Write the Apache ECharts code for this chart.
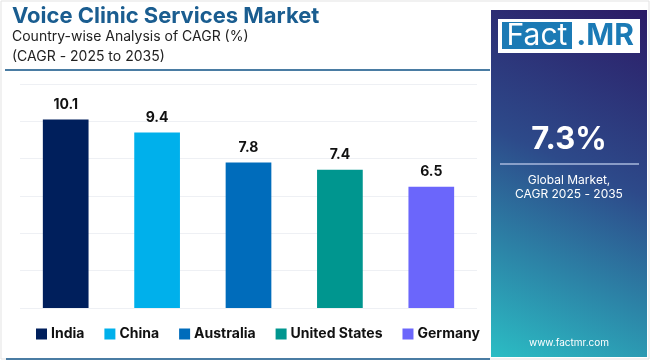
<!DOCTYPE html>
<html><head><meta charset="utf-8">
<script src="https://cdn.jsdelivr.net/npm/echarts@6/dist/echarts.min.js"></script>
<style>html,body{margin:0;padding:0;background:#fff}#c{width:650px;height:360px}</style>
</head><body><div id="c"></div>
<script>
const categories = ['India','China','Australia','United States','Germany'];
const values = [10.1, 9.4, 7.8, 7.4, 6.5];
const colors = ['#001f5c','#00b0eb','#006cbb','#00968f','#6b66fb'];
const globalCagr = '7.3%';

const chart = echarts.init(document.getElementById('c'), null, {renderer:'canvas'});
const font = 'Inter, "Open Sans", sans-serif';
const series = categories.map((name, i) => ({
  name: name,
  type: 'bar',
  stack: 'one',
  barWidth: '50%',
  itemStyle: {color: colors[i]},
  label: {show: true, position: 'top', distance: 8, fontFamily: font, fontWeight: 'bold', fontSize: 14, color: '#111'},
  data: categories.map((c, j) => j === i ? values[i] : null)
}));
chart.setOption({
  animation: false,
  grid: {left: 20, right: 173, top: 84, bottom: 52},
  xAxis: {type: 'category', data: categories, axisLine: {show: false}, axisTick: {show: false}, axisLabel: {show: false}},
  yAxis: {type: 'value', min: 0, max: 12, interval: 2, axisLabel: {show: false}, axisLine: {show: false}, axisTick: {show: false},
    splitLine: {lineStyle: {color: '#eef0f4', width: 1}}},
  legend: {data: categories, left: 31, top: 322, itemWidth: 11, itemHeight: 11, itemGap: 20, icon: 'rect',
    textStyle: {fontFamily: font, fontWeight: 'bold', fontSize: 14, color: '#111', padding: [0,0,0,-1]}},
  series: series,
  graphic: [
    {type: 'rect', shape: {x: 1, y: 1, width: 648, height: 358}, style: {fill: 'none', stroke: '#e3e3e3', lineWidth: 1}, z: -1},
    {type: 'text', left: 12, top: 5, style: {text: 'Voice Clinic Services Market', font: 'bold 22px ' + font, fill: '#1a5d90'}},
    {type: 'text', left: 12, top: 30, style: {text: 'Country-wise Analysis of CAGR (%)', font: '14px ' + font, fill: '#222'}},
    {type: 'text', left: 12, top: 50, style: {text: '(CAGR - 2025 to 2035)', font: '14px ' + font, fill: '#222'}},
    {type: 'line', shape: {x1: 5, y1: 70, x2: 490, y2: 70}, style: {stroke: '#4a7ca3', lineWidth: 2}},
    {type: 'line', shape: {x1: 6, y1: 359, x2: 490, y2: 359}, style: {stroke: '#4a7ca3', lineWidth: 2}},
    {type: 'rect', shape: {x: 491, y: 10, width: 156, height: 347},
      style: {fill: new echarts.graphic.LinearGradient(1, 0, 0, 1, [
        {offset: 0, color: '#2c1b66'}, {offset: 0.45, color: '#2d4a8a'}, {offset: 1, color: '#2bbdc4'}])}},
    {type: 'rect', shape: {x: 498, y: 19, width: 142, height: 34}, style: {fill: '#fff'}},
    {type: 'rect', shape: {x: 502, y: 22, width: 70, height: 27}, style: {fill: '#1b7ab5'}},
    {type: 'text', x: 537, y: 36, style: {text: 'Fact', font: '30px ' + font, fill: '#fff', align: 'center', verticalAlign: 'middle'}},
    {type: 'text', x: 605, y: 36, style: {text: '.MR', font: 'bold 30px ' + font, fill: '#1b7ab5', align: 'center', verticalAlign: 'middle'}},
    {type: 'text', x: 569, y: 140, style: {text: globalCagr, font: 'bold 31px ' + font, fill: '#fff', align: 'center', verticalAlign: 'middle'}},
    {type: 'line', shape: {x1: 500, y1: 164, x2: 639, y2: 164}, style: {stroke: '#a9b8dc', lineWidth: 1.5}},
    {type: 'text', x: 569, y: 180, style: {text: 'Global Market,', font: '12px ' + font, fill: '#fff', align: 'center', verticalAlign: 'middle'}},
    {type: 'text', x: 569, y: 194, style: {text: 'CAGR 2025 - 2035', font: '12px ' + font, fill: '#fff', align: 'center', verticalAlign: 'middle'}},
    {type: 'text', x: 569, y: 343, style: {text: 'www.factmr.com', font: '10px ' + font, fill: '#fff', align: 'center', verticalAlign: 'middle'}}
  ]
});
</script></body></html>
